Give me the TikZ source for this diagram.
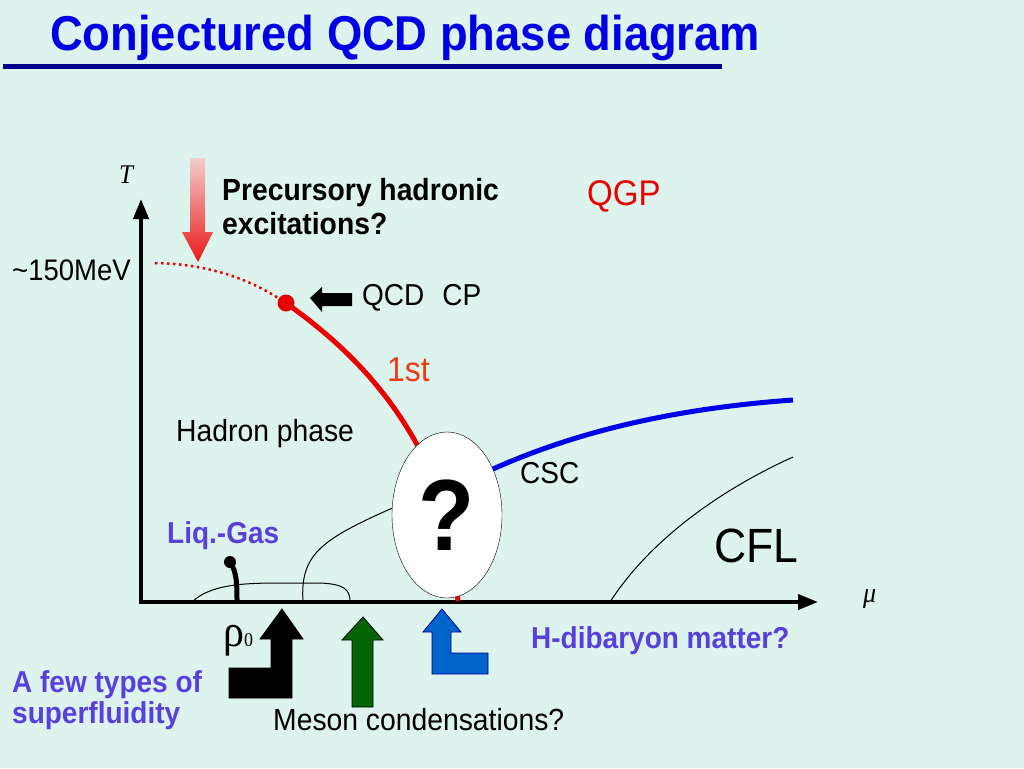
\documentclass[tikz,border=0pt]{standalone}
\usepackage{fontspec}
\setmainfont{Liberation Sans}
\newfontfamily\timesfont{Liberation Serif}
\usetikzlibrary{arrows.meta}
\usetikzlibrary{shapes.geometric}
\definecolor{bgmint}{RGB}{221,244,238}
\definecolor{ttlblue}{RGB}{0,0,230}
\definecolor{ulnavy}{RGB}{0,0,140}
\definecolor{lblpurple}{RGB}{88,64,220}
\definecolor{cpred}{RGB}{235,0,0}
\definecolor{firstred}{RGB}{235,60,20}
\definecolor{cscblue}{RGB}{0,0,235}
\definecolor{mesongreen}{RGB}{5,100,5}
\definecolor{hdblue}{RGB}{0,100,205}
\newcommand{\fsz}[1]{\fontsize{#1}{#1}\selectfont}

\begin{document}
\begin{tikzpicture}[x=1pt,y=-1pt,
  lbl/.style={anchor=base west,inner sep=0pt,yscale=1.08},
  purp/.style={lbl,text=lblpurple,font=\bfseries\fsz{28}},
  axisline/.style={line width=4pt,-{Triangle[length=20pt,width=15pt]}},
  thinb/.style={line width=1pt},
  fatarrow/.style={line width=0.8pt,line join=miter}]
  \fill[bgmint] (0,0) rectangle (1024,768);

  % title
  \node[lbl,text=ttlblue,font=\bfseries\fsz{45.3}] (title) at (50,50) {Conjectured QCD phase diagram};
  \draw[ulnavy,line width=5pt] (3,66) -- (722,66);

  % axes
  \coordinate (origin) at (141,602);
  \draw[axisline] (139,602) -- (818,602) coordinate (muend);
  \draw[axisline] (141,604) -- (141,199) coordinate (tend);
  \node[lbl,font=\timesfont\itshape\fsz{25}] (tlbl) at (119,183) {T};
  \node[lbl,font=\timesfont\itshape\fsz{26}] (mulbl) at (863,602) {μ};
  \node[lbl,font=\fsz{27.5}] (tc) at (12,280) {\textasciitilde150MeV};

  % thin boundaries
  \draw[thinb] (192,602) .. controls (210,585) and (240,583) .. (280,583)
    -- (320,583) .. controls (345,584) and (350,590) .. (350,602);
  \draw[thinb] (610,602) .. controls (650,540) and (720,490) .. (793,457);

  % crossover and first order line
  \node[circle,fill=cpred,inner sep=0pt,minimum size=17pt] (cp) at (286,303) {};
  \draw[cpred,line width=2.5pt,dash pattern=on 2.5pt off 3.5pt] (155,263) .. controls (210,264) and (250,280) .. (cp);
  \draw[cpred,line width=5pt] (cp.center) .. controls (345,345) and (395,395) .. (430,470)
    .. controls (445,510) and (452,560) .. (458,601);

  \node[ellipse,draw,thin,fill=white,minimum width=110pt,minimum height=166pt,inner sep=0pt] (unk) at (447,515) {};
  \node[font=\bfseries\fsz{92},yscale=1.1,inner sep=0pt] (qmark) at (unk.center) {?};
  \draw[cscblue,line width=5pt] (unk.45) .. controls (580,430) and (680,408) .. (793,400);
  \draw[thinb] (303,602) .. controls (300,555) and (320,540) .. (unk.173);

  % liquid-gas end point
  \node[circle,fill=black,inner sep=0pt,minimum size=12pt] (lgcp) at (230,562) {};
  \draw[line width=5pt] (lgcp.center) .. controls (237,572) and (237,585) .. (237,602);

  % arrows
  \shade[top color={rgb,255:red,242;green,205;blue,205},bottom color={rgb,255:red,235;green,25;blue,25}]
    (190,158) -- (205,158) -- (205,232) -- (213,232) -- (198,262) -- (182,232) -- (190,232) -- cycle;
  \fill (310,298) -- (322,287) -- (322,293) -- (352,293) -- (352,306) -- (322,306) -- (322,312) -- cycle;
  \fill[draw=black,fatarrow] (282,609) -- (303,639) -- (292,639) -- (292,698) -- (229,698) -- (229,668)
    -- (271,668) -- (271,639) -- (260,639) -- cycle;
  \filldraw[fill=mesongreen,draw=black,fatarrow] (363,617) -- (383,640) -- (373,640) -- (373,707)
    -- (352,707) -- (352,640) -- (342,640) -- cycle;
  \filldraw[fill=hdblue,draw=ulnavy,fatarrow] (442,609) -- (461,632) -- (451,632) -- (451,653) -- (488,653)
    -- (488,674) -- (432,674) -- (432,632) -- (423,632) -- cycle;

  % labels
  \node[lbl,font=\bfseries\fsz{28.3}] (prec1) at (222,200) {Precursory hadronic};
  \node[lbl,font=\bfseries\fsz{28.3}] (prec2) at (222,234) {excitations?};
  \node[lbl,text=cpred,font=\fsz{33}] (qgp) at (587,205) {QGP};
  \node[lbl,font=\fsz{28}] (cplbl) at (362,305) {QCD\hspace{18pt}CP};
  \node[lbl,text=firstred,font=\fsz{32}] (first) at (387,381) {1st};
  \node[lbl,font=\fsz{28.3}] (hadron) at (176,441) {Hadron phase};
  \node[lbl,font=\fsz{28}] (csc) at (520,483) {CSC};
  \node[lbl,font=\fsz{44.5}] (cfl) at (714,562) {CFL};
  \node[purp] (liqgas) at (167,543) {Liq.-Gas};
  \node[lbl,font=\timesfont\fsz{42}] (rho) at (223,646) {ρ\fsz{18}0};
  \node[purp] (hdib) at (531,648) {H-dibaryon matter?};
  \node[lbl,font=\fsz{28.3}] (meson) at (273,730) {Meson condensations?};
  \node[purp] (sf1) at (12,692) {A few types of};
  \node[purp] (sf2) at (12,723) {superfluidity};
\end{tikzpicture}
\end{document}
